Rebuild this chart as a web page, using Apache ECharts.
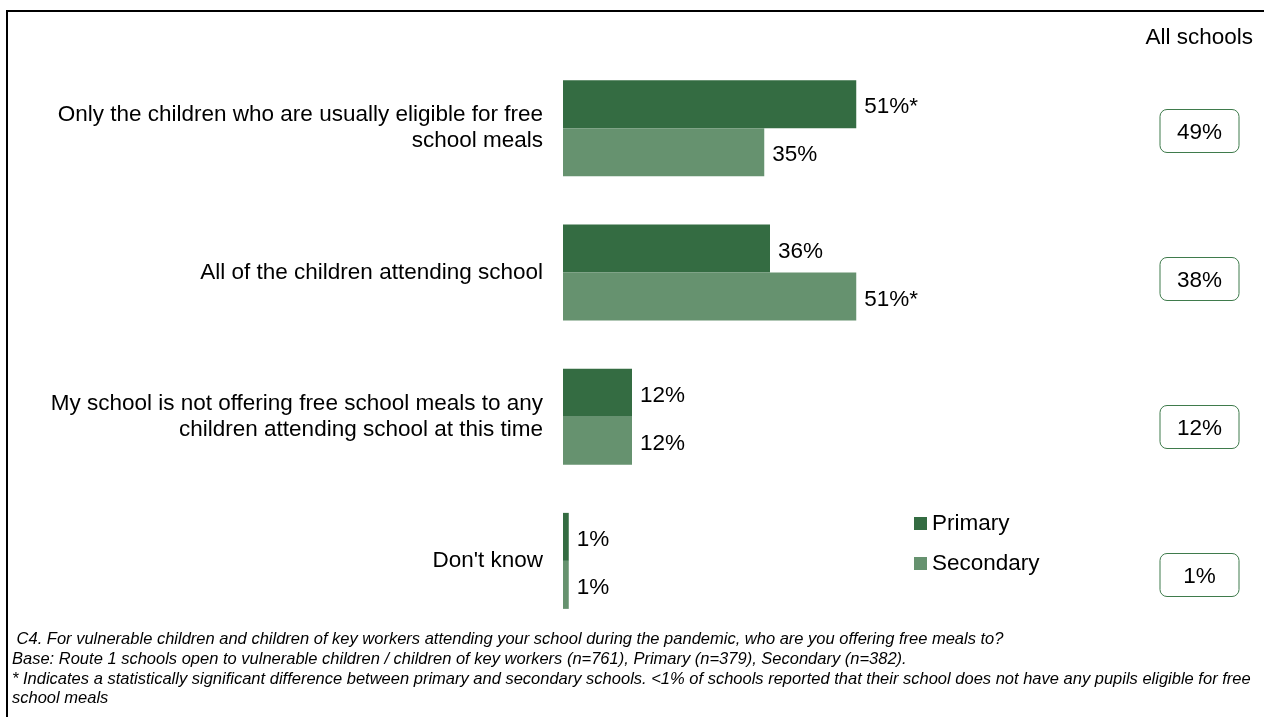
<!DOCTYPE html>
<html>
<head>
<meta charset="utf-8">
<script src="https://cdn.jsdelivr.net/npm/echarts@6/dist/echarts.min.js"></script>
<style>
html,body{margin:0;padding:0;background:#fff;}
#chart{width:1264px;height:717px;}
</style>
</head>
<body>
<div id="chart"></div>
<script>
const categories = [
  'Only the children who are usually eligible for free\nschool meals',
  'All of the children attending school',
  'My school is not offering free school meals to any\nchildren attending school at this time',
  "Don't know"
];
const primaryValues = [51, 36, 12, 1];
const secondaryValues = [35, 51, 12, 1];
const primarySig = ['*', '', '', ''];
const secondarySig = ['', '*', '', ''];
const allSchoolsValues = [49, 38, 12, 1];
const footnotes = [
  ' C4. For vulnerable children and children of key workers attending your school during the pandemic, who are you offering free meals to?',
  'Base: Route 1 schools open to vulnerable children / children of key workers (n=761), Primary (n=379), Secondary (n=382).',
  '* Indicates a statistically significant difference between primary and secondary schools. <1% of schools reported that their school does not have any pupils eligible for free',
  'school meals'
];

const FONT = "'Liberation Sans', Arial, sans-serif";
const FS = 22.5;
const PRIMARY = '#346c42';
const SECONDARY = '#66926f';
const BOX = '#3f7b4c';

const chart = echarts.init(document.getElementById('chart'), null, {renderer: 'canvas'});

const footY = [639, 659, 679, 698];

const option = {
  animation: false,
  backgroundColor: '#fff',
  textStyle: {fontFamily: FONT},
  grid: [
    {left: 563, top: 56, width: 575, height: 577, containLabel: false},
    {left: 1160, top: 57, width: 79, height: 592, containLabel: false}
  ],
  xAxis: [
    {type: 'value', gridIndex: 0, min: 0, max: 100, show: false},
    {type: 'value', gridIndex: 1, min: 0, max: 1, show: false}
  ],
  yAxis: [
    {
      type: 'category', gridIndex: 0, data: categories, inverse: true,
      axisLine: {show: false}, axisTick: {show: false}, splitLine: {show: false},
      axisLabel: {fontSize: FS, lineHeight: 26, color: '#000', margin: 20, align: 'right', fontFamily: FONT,
        padding: [4, 0, 0, 0]}
    },
    {
      type: 'category', gridIndex: 1, data: categories, inverse: true, show: false
    }
  ],
  legend: {
    orient: 'vertical', left: 914, top: 512, padding: 0,
    itemWidth: 13, itemHeight: 13, itemGap: 17, icon: 'rect',
    textStyle: {fontSize: FS, color: '#000', fontFamily: FONT},
    data: ['Primary', 'Secondary']
  },
  series: [
    {
      name: 'Primary', type: 'bar', xAxisIndex: 0, yAxisIndex: 0,
      data: primaryValues, barWidth: 48, barGap: '0%',
      itemStyle: {color: PRIMARY},
      label: {show: true, position: 'right', distance: 8, offset: [0, 3], fontSize: FS, color: '#000', fontFamily: FONT,
        formatter: p => p.value + '%' + primarySig[p.dataIndex]}
    },
    {
      name: 'Secondary', type: 'bar', xAxisIndex: 0, yAxisIndex: 0,
      data: secondaryValues, barWidth: 48, barGap: '0%',
      itemStyle: {color: SECONDARY},
      label: {show: true, position: 'right', distance: 8, offset: [0, 3], fontSize: FS, color: '#000', fontFamily: FONT,
        formatter: p => p.value + '%' + secondarySig[p.dataIndex]}
    },
    {
      name: 'All schools', type: 'custom', xAxisIndex: 1, yAxisIndex: 1,
      data: allSchoolsValues.map((v, i) => [0.5, i, v]),
      silent: true,
      renderItem: (params, api) => {
        const c = api.coord([api.value(0), api.value(1)]);
        return {
          type: 'group',
          children: [
            {type: 'rect', shape: {x: c[0] - 39.5, y: c[1] - 21.5, width: 79, height: 43, r: 7},
              style: {fill: '#fff', stroke: BOX, lineWidth: 1}},
            {type: 'text', style: {text: api.value(2) + '%', x: c[0], y: c[1] + 2, align: 'center', verticalAlign: 'middle',
              font: FS + 'px ' + FONT, fill: '#000'}}
          ]
        };
      }
    }
  ],
  graphic: [
    {type: 'line', shape: {x1: 7, y1: 11, x2: 1264, y2: 11}, style: {stroke: '#000', lineWidth: 2}, silent: true},
    {type: 'line', shape: {x1: 7, y1: 10, x2: 7, y2: 717}, style: {stroke: '#000', lineWidth: 2}, silent: true},
    {type: 'text', x: 1253, y: 38, style: {text: 'All schools', fill: '#000', font: FS + 'px ' + FONT, textAlign: 'right', textVerticalAlign: 'middle'}, silent: true}
  ].concat(footnotes.map((t, i) => ({
    type: 'text', x: 12, y: footY[i],
    style: {text: t, fill: '#000', font: 'italic 16.5px ' + FONT, textAlign: 'left', textVerticalAlign: 'middle'},
    silent: true
  })))
};
chart.setOption(option);
</script>
</body>
</html>
